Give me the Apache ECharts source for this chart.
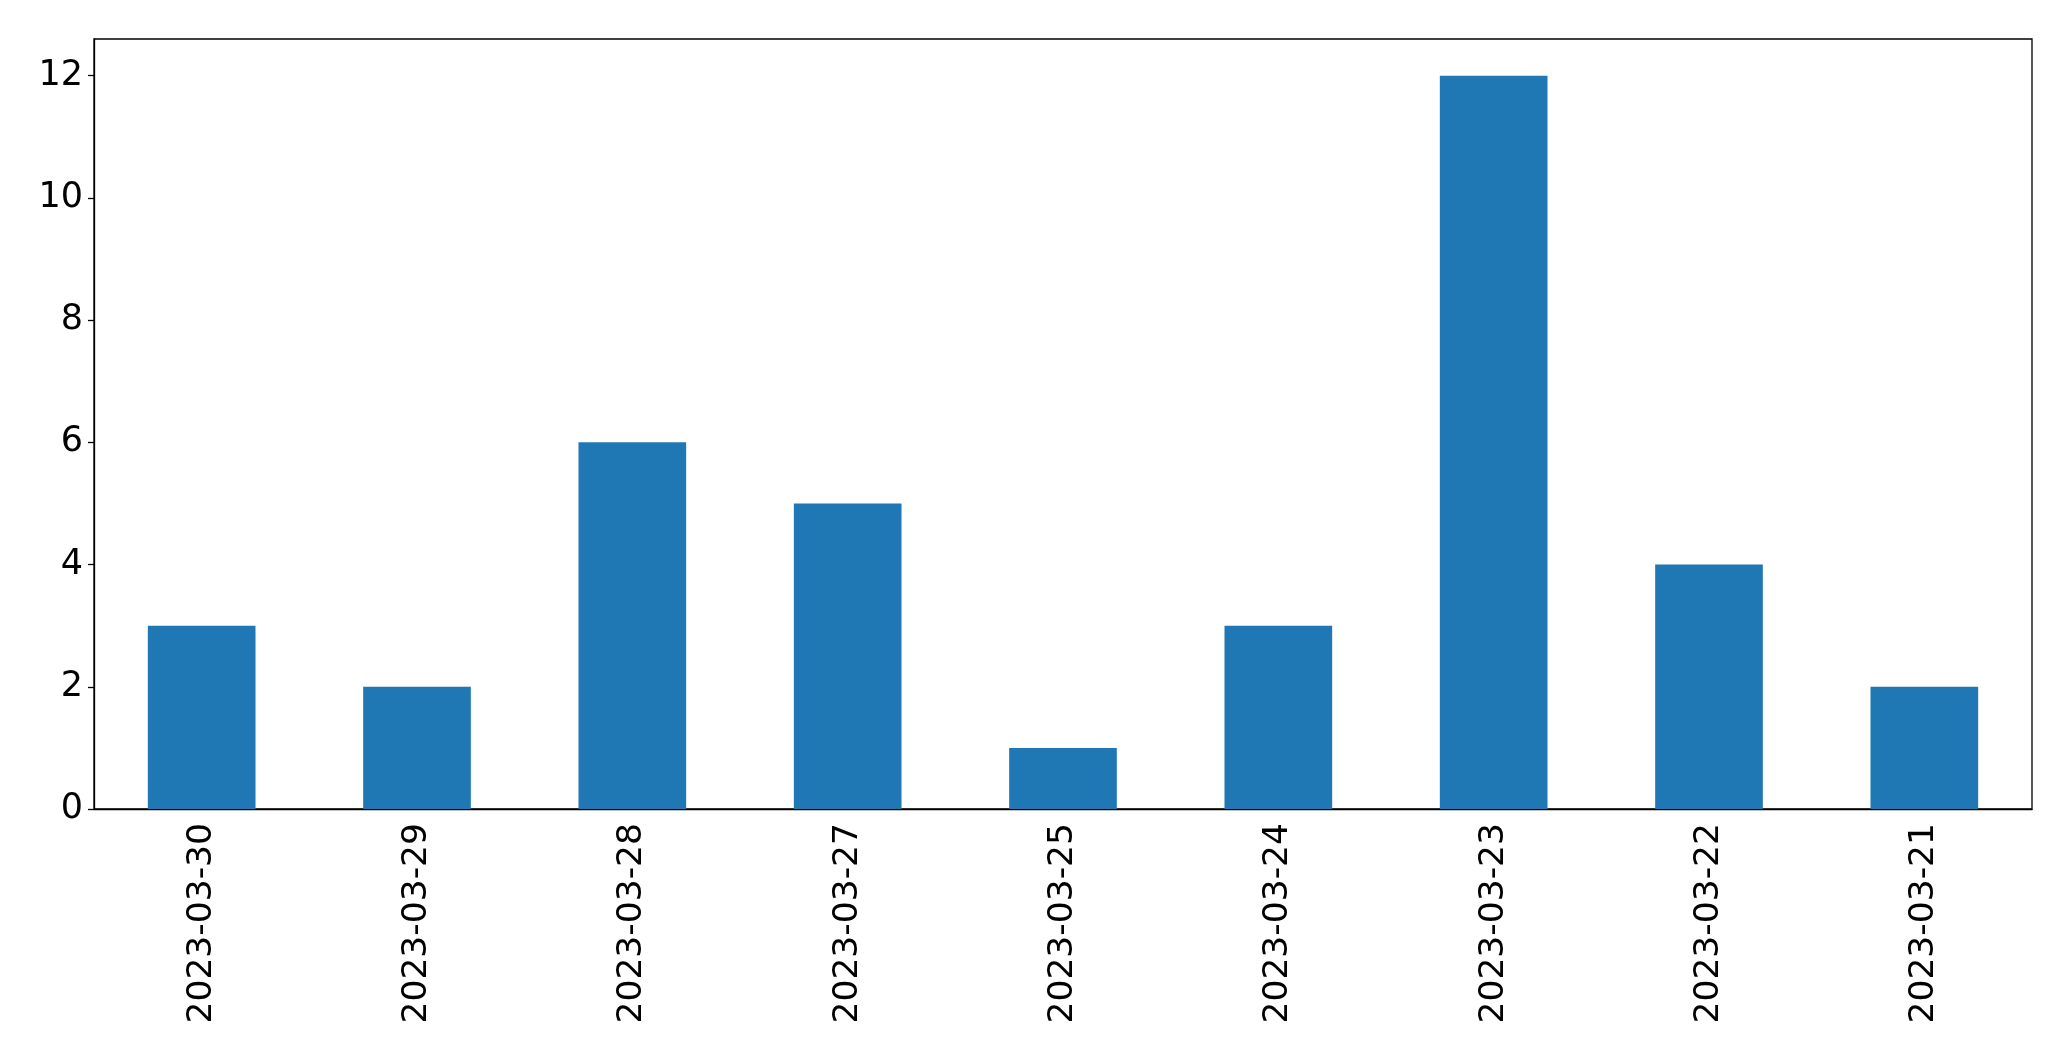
<!DOCTYPE html>
<html>
<head>
<meta charset="utf-8">
<script src="https://cdn.jsdelivr.net/npm/echarts@6/dist/echarts.min.js"></script>
<style>html,body{margin:0;padding:0;background:#fff;}#c{width:2071px;height:1061px;}</style>
</head>
<body>
<div id="c"></div>
<script>
const categories = ['2023-03-30','2023-03-29','2023-03-28','2023-03-27','2023-03-25','2023-03-24','2023-03-23','2023-03-22','2023-03-21'];
const values = [3, 2, 6, 5, 1, 3, 12, 4, 2];
const yTicks = [0, 2, 4, 6, 8, 10, 12];

const chart = echarts.init(document.getElementById('c'), null, {renderer: 'canvas'});
chart.setOption({
  animation: false,
  backgroundColor: '#fff',
  grid: {left: 94, right: 39, top: 39, bottom: 252, show: true, borderColor: '#000', borderWidth: 1.3, backgroundColor: 'transparent'},
  xAxis: {
    type: 'category',
    data: categories,
    axisLine: {lineStyle: {color: '#000', width: 1.3}},
    axisTick: {alignWithLabel: true, length: 6, lineStyle: {color: '#000', width: 1.3}},
    axisLabel: {rotate: 90, color: '#000', fontFamily: 'DejaVu Sans', fontSize: 34.5, margin: 14, interval: 0}
  },
  yAxis: {
    type: 'value',
    min: 0,
    max: 12.6,
    interval: 2,
    splitLine: {show: false},
    axisLine: {show: true, lineStyle: {color: '#000', width: 1.3}},
    axisTick: {show: true, length: 6, customValues: yTicks, lineStyle: {color: '#000', width: 1.3}},
    axisLabel: {color: '#000', fontFamily: 'DejaVu Sans', fontSize: 35, margin: 11, customValues: yTicks}
  },
  series: [{
    type: 'bar',
    data: values,
    barWidth: '50%',
    itemStyle: {color: '#1f77b4'}
  }]
});
</script>
</body>
</html>
